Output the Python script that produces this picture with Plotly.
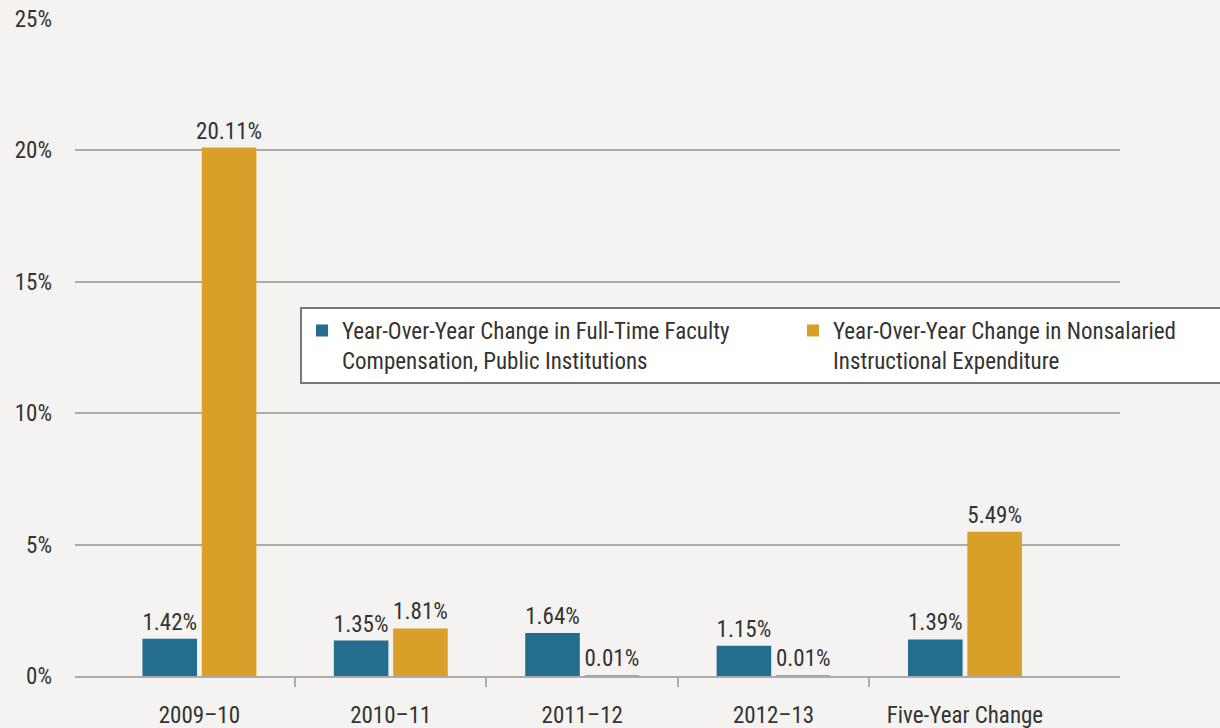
import plotly.graph_objects as go

categories = ["2009–10", "2010–11", "2011–12", "2012–13", "Five-Year Change"]
faculty_comp = [1.42, 1.35, 1.64, 1.15, 1.39]
nonsalaried = [20.11, 1.81, 0.01, 0.01, 5.49]
series_names = [
    "Year-Over-Year Change in Full-Time Faculty<br>Compensation, Public Institutions",
    "Year-Over-Year Change in Nonsalaried<br>Instructional Expenditure",
]
y_ticks = [0, 5, 10, 15, 20, 25]
y_tick_text = ["0%", "5%", "10%", "15%", "20%", "25%"]

FONT = "Liberation Sans Narrow, Roboto Condensed, Arial Narrow, sans-serif"
FS = 23
TXT = "#333333"
BLUE = "#236d8e"
GOLD = "#d9a029"
GRID = "#ababab"
BG = "#f4f3f1"

n_cat = len(categories)
boundaries = [i + 0.5 for i in range(n_cat - 1)]  # separators between categories
x_range = [-0.65, 4.81]

fig = go.Figure()
for vals, name, col in [(faculty_comp, series_names[0], BLUE), (nonsalaried, series_names[1], GOLD)]:
    fig.add_trace(go.Bar(
        x=categories, y=vals, name=name, marker=dict(color=col, line=dict(width=0)),
        texttemplate="%{y:.2f}%", textposition="outside", cliponaxis=False,
        constraintext="none",
        textfont=dict(family=FONT, size=FS, color=TXT),
    ))

# invisible trace on an overlay linear axis carrying the separator ticks
fig.add_trace(go.Scatter(x=list(range(n_cat)), y=[None] * n_cat, xaxis="x2",
                         showlegend=False, hoverinfo="skip"))

fig.update_layout(
    width=1220, height=728,
    paper_bgcolor=BG, plot_bgcolor=BG,
    margin=dict(l=75, r=100, t=19, b=52, autoexpand=False),
    barmode="group", bargap=0.38, bargroupgap=0.08,
    font=dict(family=FONT, size=FS, color=TXT),
    xaxis=dict(
        type="category", range=x_range, showgrid=False, ticks="",
        showline=True, linecolor=GRID, linewidth=2, automargin=False,
        tickfont=dict(family=FONT, size=FS, color=TXT), ticklabelstandoff=17,
    ),
    xaxis2=dict(
        type="linear", overlaying="x", range=x_range, showgrid=False, zeroline=False,
        tickmode="array", tickvals=boundaries, ticks="outside", ticklen=10,
        tickwidth=2, tickcolor=GRID, showticklabels=False, side="bottom",
        automargin=False, showline=False,
    ),
    yaxis=dict(
        range=[0, 25], tickvals=y_ticks, ticktext=y_tick_text, showgrid=True,
        gridcolor=GRID, gridwidth=2, zeroline=False, showline=False, automargin=False,
        tickfont=dict(family=FONT, size=FS, color=TXT), ticklabelstandoff=22,
    ),
    legend=dict(
        orientation="h", xref="container", x=300/1220, xanchor="left",
        y=0.5616, yanchor="top",
        bgcolor="#ffffff", bordercolor="#777777", borderwidth=2,
        font=dict(family=FONT, size=FS, color=TXT),
        entrywidth=446, entrywidthmode="pixels",
        valign="top",
    ),
    showlegend=True,
)

fig.write_html(
    "out.html",
    config={"displayModeBar": False},
    post_script="document.body.style.margin='0';document.body.style.background='#f4f3f1';",
)
